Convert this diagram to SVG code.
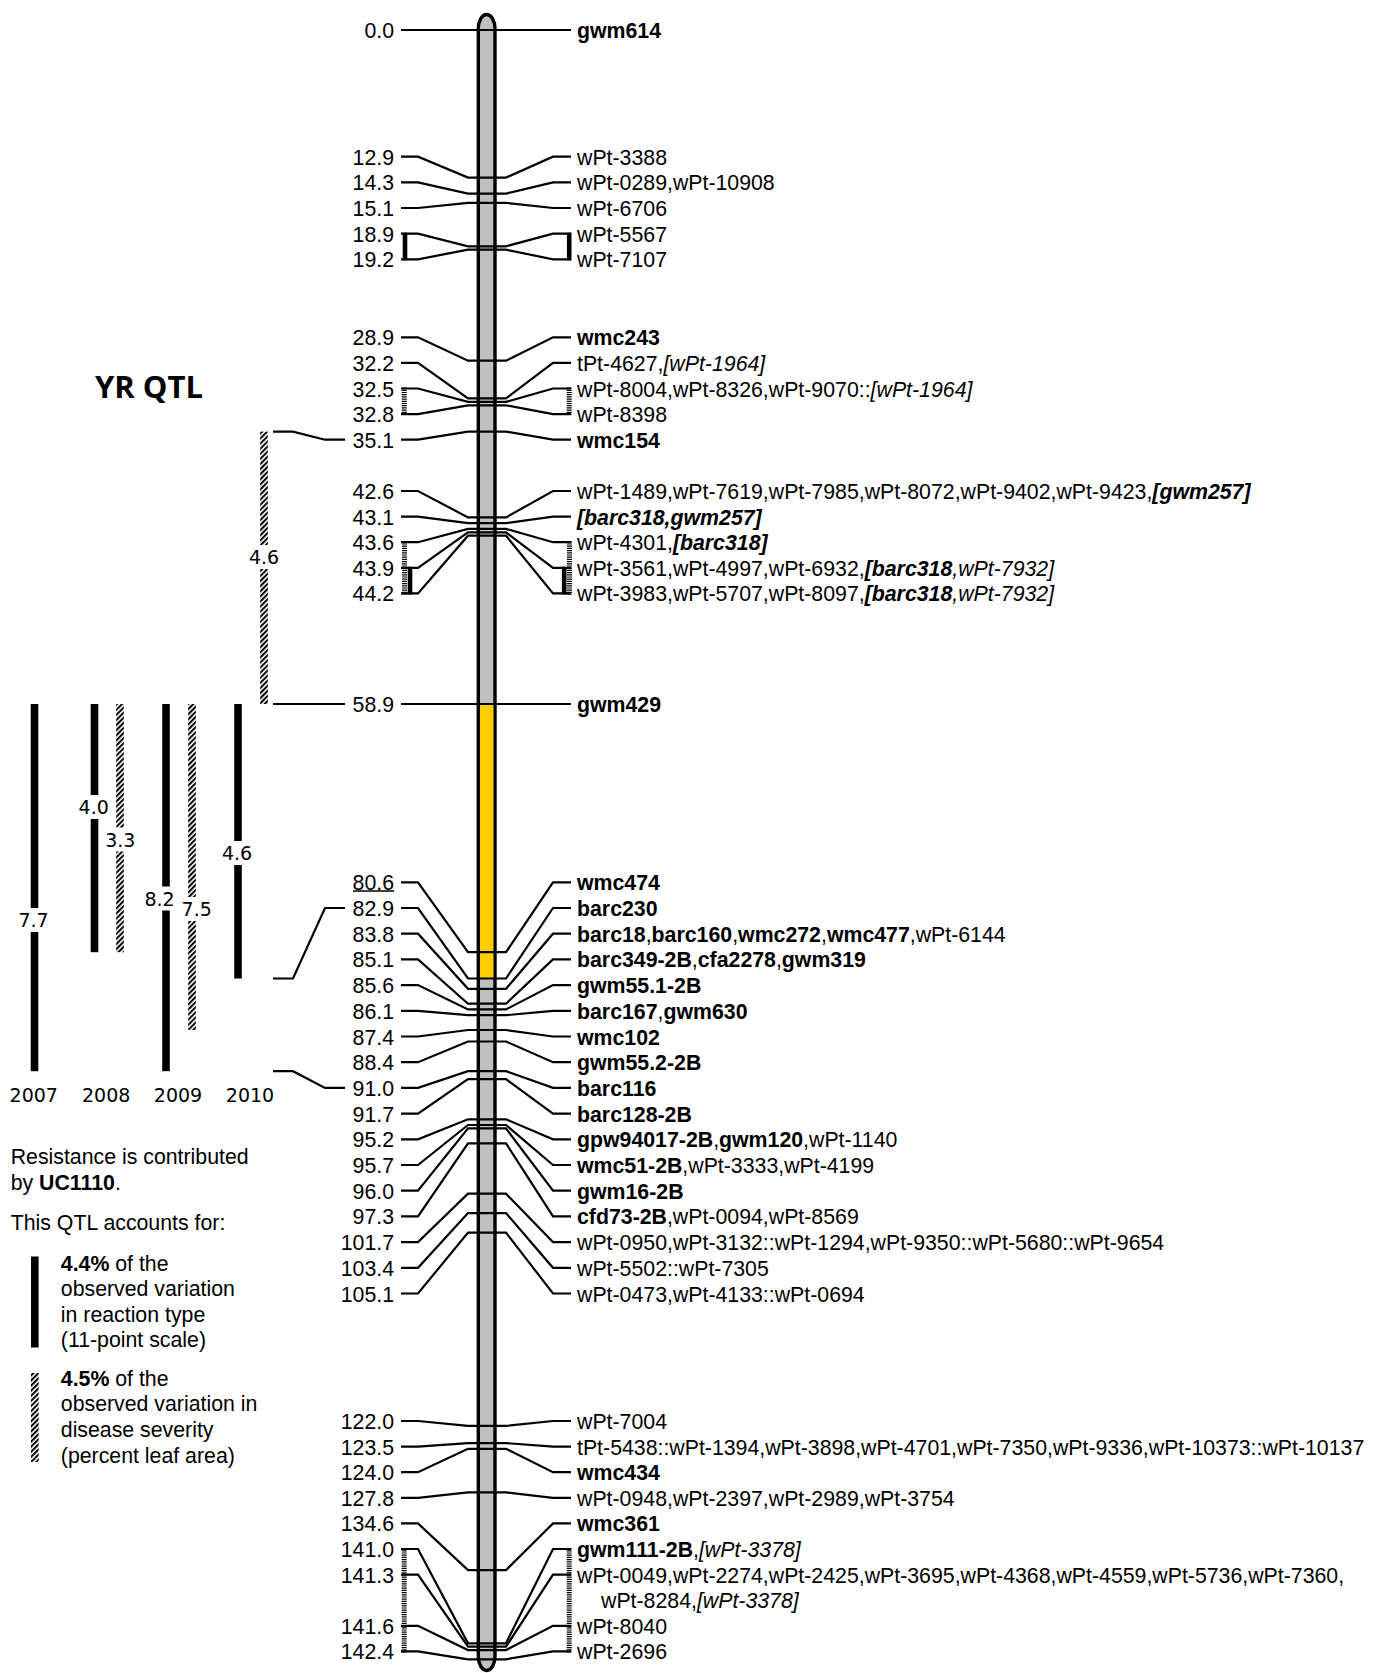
<svg xmlns="http://www.w3.org/2000/svg" width="1374" height="1673" viewBox="0 0 1374 1673">
<style>
.t{font-family:"Liberation Sans",Arial,sans-serif;font-size:21.3px;fill:#000}
.n{text-anchor:end}
.b{font-weight:bold}
.i{font-style:italic}
.bi{font-weight:bold;font-style:italic}
.c{fill:none;stroke:#000;stroke-width:2.2;stroke-linejoin:miter}
.d{font-family:"DejaVu Sans",Verdana,sans-serif;font-size:19px;text-anchor:middle;fill:#000}
.solid{stroke:#000;stroke-width:4.6;fill:none}
.lad{stroke:#000;stroke-width:5;stroke-dasharray:1.2 1;fill:none}
</style>
<defs>
<pattern id="hatch" width="3.6" height="3.6" patternUnits="userSpaceOnUse" patternTransform="rotate(45)">
<rect width="3.6" height="3.6" fill="#fff"/><rect width="2" height="3.6" fill="#000"/>
</pattern>
</defs>
<rect width="1374" height="1673" fill="#fff"/>

<g id="chromosome">
<rect x="478.3" y="14.5" width="16.7" height="1656" rx="8.35" ry="14" fill="#c0c0c0" stroke="#000" stroke-width="3.4"/>
<rect x="479.95" y="704" width="13.4" height="274.5" fill="#ffcc00"/>
</g>

<g id="connectors">
<path class="c" d="M401,30 H418 L468,30 H506 L553,30 H571"/>
<path class="c" d="M401,156.7 H418 L468,177.6 H506 L553,156.7 H571"/>
<path class="c" d="M401,182.4 H418 L468,193.6 H506 L553,182.4 H571"/>
<path class="c" d="M401,208 H418 L468,202.8 H506 L553,208 H571"/>
<path class="c" d="M401,233.7 H418 L468,246.3 H506 L553,233.7 H571"/>
<path class="c" d="M401,259.3 H418 L468,249.7 H506 L553,259.3 H571"/>
<path class="c" d="M401,337.3 H418 L468,360.7 H506 L553,337.3 H571"/>
<path class="c" d="M401,362.9 H418 L468,398.4 H506 L553,362.9 H571"/>
<path class="c" d="M401,388.5 H418 L468,401.9 H506 L553,388.5 H571"/>
<path class="c" d="M401,414.1 H418 L468,405.3 H506 L553,414.1 H571"/>
<path class="c" d="M401,439.7 H418 L468,431.6 H506 L553,439.7 H571"/>
<path class="c" d="M401,491 H418 L468,517.4 H506 L553,491 H571"/>
<path class="c" d="M401,516.6 H418 L468,523.2 H506 L553,516.6 H571"/>
<path class="c" d="M401,542.2 H418 L468,528.9 H506 L553,542.2 H571"/>
<path class="c" d="M401,567.8 H418 L468,532.3 H506 L553,567.8 H571"/>
<path class="c" d="M401,593.4 H418 L468,535.7 H506 L553,593.4 H571"/>
<path class="c" d="M401,704 H418 L468,704 H506 L553,704 H571"/>
<path class="c" d="M401,882.3 H418 L468,952.2 H506 L553,882.3 H571"/>
<path class="c" d="M401,908 H418 L468,978.5 H506 L553,908 H571"/>
<path class="c" d="M401,933.7 H418 L468,988.8 H506 L553,933.7 H571"/>
<path class="c" d="M401,959.4 H418 L468,1003.7 H506 L553,959.4 H571"/>
<path class="c" d="M401,985.1 H418 L468,1009.4 H506 L553,985.1 H571"/>
<path class="c" d="M401,1010.8 H418 L468,1015.2 H506 L553,1010.8 H571"/>
<path class="c" d="M401,1036.5 H418 L468,1030 H506 L553,1036.5 H571"/>
<path class="c" d="M401,1062.2 H418 L468,1041.5 H506 L553,1062.2 H571"/>
<path class="c" d="M401,1087.9 H418 L468,1071.2 H506 L553,1087.9 H571"/>
<path class="c" d="M401,1113.6 H418 L468,1079.2 H506 L553,1113.6 H571"/>
<path class="c" d="M401,1139.3 H418 L468,1119.3 H506 L553,1139.3 H571"/>
<path class="c" d="M401,1165 H418 L468,1125 H506 L553,1165 H571"/>
<path class="c" d="M401,1190.7 H418 L468,1128.4 H506 L553,1190.7 H571"/>
<path class="c" d="M401,1216.4 H418 L468,1143.3 H506 L553,1216.4 H571"/>
<path class="c" d="M401,1242.1 H418 L468,1193.7 H506 L553,1242.1 H571"/>
<path class="c" d="M401,1267.8 H418 L468,1213.1 H506 L553,1267.8 H571"/>
<path class="c" d="M401,1293.5 H418 L468,1232.6 H506 L553,1293.5 H571"/>
<path class="c" d="M401,1421 H418 L468,1425.9 H506 L553,1421 H571"/>
<path class="c" d="M401,1446.6 H418 L468,1443.1 H506 L553,1446.6 H571"/>
<path class="c" d="M401,1472.2 H418 L468,1448.8 H506 L553,1472.2 H571"/>
<path class="c" d="M401,1497.8 H418 L468,1492.3 H506 L553,1497.8 H571"/>
<path class="c" d="M401,1523.4 H418 L468,1570.1 H506 L553,1523.4 H571"/>
<path class="c" d="M401,1549 H418 L468,1643.3 H506 L553,1549 H571"/>
<path class="c" d="M401,1574.6 H418 L468,1646.7 H506 L553,1574.6 H571"/>
<path class="c" d="M401,1625.8 H418 L468,1650.1 H506 L553,1625.8 H571"/>
<path class="c" d="M401,1651.4 H418 L468,1659.3 H506 L553,1651.4 H571"/>
<path class="c" d="M273,431.6 H293 L325,439.7 H345"/>
<path class="c" d="M273,704 H293 L325,704 H345"/>
<path class="c" d="M273,978.5 H293 L325,908 H345"/>
<path class="c" d="M273,1071.2 H293 L325,1087.9 H345"/>
<path class="solid" d="M405,232.7 V260.3 M569.2,232.7 V260.3"/>
<path class="lad" d="M404.2,387.5 V415.1 M569.2,387.5 V415.1"/>
<path class="lad" d="M404.5,541.2 V594.4 M569.5,541.2 V594.4"/>
<path class="solid" d="M410,566.8 V594.4 M564.2,566.8 V594.4"/>
<path class="lad" d="M404.2,1548 V1652.4 M569.2,1548 V1652.4"/>
<line x1="353" y1="891" x2="394" y2="891" stroke="#000" stroke-width="1.5"/>
</g>

<g id="m0"><text class="t n" x="394" y="38">0.0</text><text class="t b" x="577" y="38">gwm614</text></g>
<g id="m12-9"><text class="t n" x="394" y="164.7">12.9</text><text class="t" x="577" y="164.7">wPt-3388</text></g>
<g id="m14-3"><text class="t n" x="394" y="190.4">14.3</text><text class="t" x="577" y="190.4">wPt-0289,wPt-10908</text></g>
<g id="m15-1"><text class="t n" x="394" y="216">15.1</text><text class="t" x="577" y="216">wPt-6706</text></g>
<g id="m18-9"><text class="t n" x="394" y="241.7">18.9</text><text class="t" x="577" y="241.7">wPt-5567</text></g>
<g id="m19-2"><text class="t n" x="394" y="267.3">19.2</text><text class="t" x="577" y="267.3">wPt-7107</text></g>
<g id="m28-9"><text class="t n" x="394" y="345.3">28.9</text><text class="t b" x="577" y="345.3">wmc243</text></g>
<g id="m32-2"><text class="t n" x="394" y="370.9">32.2</text><text class="t" x="577" y="370.9">tPt-4627,<tspan class="i">[wPt-1964]</tspan></text></g>
<g id="m32-5"><text class="t n" x="394" y="396.5">32.5</text><text class="t" x="577" y="396.5">wPt-8004,wPt-8326,wPt-9070::<tspan class="i">[wPt-1964]</tspan></text></g>
<g id="m32-8"><text class="t n" x="394" y="422.1">32.8</text><text class="t" x="577" y="422.1">wPt-8398</text></g>
<g id="m35-1"><text class="t n" x="394" y="447.7">35.1</text><text class="t b" x="577" y="447.7">wmc154</text></g>
<g id="m42-6"><text class="t n" x="394" y="499">42.6</text><text class="t" x="577" y="499">wPt-1489,wPt-7619,wPt-7985,wPt-8072,wPt-9402,wPt-9423,<tspan class="bi">[gwm257]</tspan></text></g>
<g id="m43-1"><text class="t n" x="394" y="524.6">43.1</text><text class="t bi" x="577" y="524.6">[barc318,gwm257]</text></g>
<g id="m43-6"><text class="t n" x="394" y="550.2">43.6</text><text class="t" x="577" y="550.2">wPt-4301,<tspan class="bi">[barc318]</tspan></text></g>
<g id="m43-9"><text class="t n" x="394" y="575.8">43.9</text><text class="t" x="577" y="575.8">wPt-3561,wPt-4997,wPt-6932,<tspan class="bi">[barc318</tspan><tspan class="i">,wPt-7932]</tspan></text></g>
<g id="m44-2"><text class="t n" x="394" y="601.4">44.2</text><text class="t" x="577" y="601.4">wPt-3983,wPt-5707,wPt-8097,<tspan class="bi">[barc318</tspan><tspan class="i">,wPt-7932]</tspan></text></g>
<g id="m58-9"><text class="t n" x="394" y="712">58.9</text><text class="t b" x="577" y="712">gwm429</text></g>
<g id="m80-6"><text class="t n" x="394" y="890.3">80.6</text><text class="t b" x="577" y="890.3">wmc474</text></g>
<g id="m82-9"><text class="t n" x="394" y="916">82.9</text><text class="t b" x="577" y="916">barc230</text></g>
<g id="m83-8"><text class="t n" x="394" y="941.7">83.8</text><text class="t" x="577" y="941.7"><tspan class="b">barc18</tspan>,<tspan class="b">barc160</tspan>,<tspan class="b">wmc272</tspan>,<tspan class="b">wmc477</tspan>,wPt-6144</text></g>
<g id="m85-1"><text class="t n" x="394" y="967.4">85.1</text><text class="t" x="577" y="967.4"><tspan class="b">barc349-2B</tspan>,<tspan class="b">cfa2278</tspan>,<tspan class="b">gwm319</tspan></text></g>
<g id="m85-6"><text class="t n" x="394" y="993.1">85.6</text><text class="t b" x="577" y="993.1">gwm55.1-2B</text></g>
<g id="m86-1"><text class="t n" x="394" y="1018.8">86.1</text><text class="t" x="577" y="1018.8"><tspan class="b">barc167</tspan>,<tspan class="b">gwm630</tspan></text></g>
<g id="m87-4"><text class="t n" x="394" y="1044.5">87.4</text><text class="t b" x="577" y="1044.5">wmc102</text></g>
<g id="m88-4"><text class="t n" x="394" y="1070.2">88.4</text><text class="t b" x="577" y="1070.2">gwm55.2-2B</text></g>
<g id="m91-0"><text class="t n" x="394" y="1095.9">91.0</text><text class="t b" x="577" y="1095.9">barc116</text></g>
<g id="m91-7"><text class="t n" x="394" y="1121.6">91.7</text><text class="t b" x="577" y="1121.6">barc128-2B</text></g>
<g id="m95-2"><text class="t n" x="394" y="1147.3">95.2</text><text class="t" x="577" y="1147.3"><tspan class="b">gpw94017-2B</tspan>,<tspan class="b">gwm120</tspan>,wPt-1140</text></g>
<g id="m95-7"><text class="t n" x="394" y="1173">95.7</text><text class="t" x="577" y="1173"><tspan class="b">wmc51-2B</tspan>,wPt-3333,wPt-4199</text></g>
<g id="m96-0"><text class="t n" x="394" y="1198.7">96.0</text><text class="t b" x="577" y="1198.7">gwm16-2B</text></g>
<g id="m97-3"><text class="t n" x="394" y="1224.4">97.3</text><text class="t" x="577" y="1224.4"><tspan class="b">cfd73-2B</tspan>,wPt-0094,wPt-8569</text></g>
<g id="m101-7"><text class="t n" x="394" y="1250.1">101.7</text><text class="t" x="577" y="1250.1">wPt-0950,wPt-3132::wPt-1294,wPt-9350::wPt-5680::wPt-9654</text></g>
<g id="m103-4"><text class="t n" x="394" y="1275.8">103.4</text><text class="t" x="577" y="1275.8">wPt-5502::wPt-7305</text></g>
<g id="m105-1"><text class="t n" x="394" y="1301.5">105.1</text><text class="t" x="577" y="1301.5">wPt-0473,wPt-4133::wPt-0694</text></g>
<g id="m122-0"><text class="t n" x="394" y="1429">122.0</text><text class="t" x="577" y="1429">wPt-7004</text></g>
<g id="m123-5"><text class="t n" x="394" y="1454.6">123.5</text><text class="t" x="577" y="1454.6">tPt-5438::wPt-1394,wPt-3898,wPt-4701,wPt-7350,wPt-9336,wPt-10373::wPt-10137</text></g>
<g id="m124-0"><text class="t n" x="394" y="1480.2">124.0</text><text class="t b" x="577" y="1480.2">wmc434</text></g>
<g id="m127-8"><text class="t n" x="394" y="1505.8">127.8</text><text class="t" x="577" y="1505.8">wPt-0948,wPt-2397,wPt-2989,wPt-3754</text></g>
<g id="m134-6"><text class="t n" x="394" y="1531.4">134.6</text><text class="t b" x="577" y="1531.4">wmc361</text></g>
<g id="m141-0"><text class="t n" x="394" y="1557">141.0</text><text class="t" x="577" y="1557"><tspan class="b">gwm111-2B</tspan>,<tspan class="i">[wPt-3378]</tspan></text></g>
<g id="m141-3"><text class="t n" x="394" y="1582.6">141.3</text><text class="t" x="577" y="1582.6">wPt-0049,wPt-2274,wPt-2425,wPt-3695,wPt-4368,wPt-4559,wPt-5736,wPt-7360,</text><text class="t" x="601" y="1608.2">wPt-8284,<tspan class="i">[wPt-3378]</tspan></text></g>
<g id="m141-6"><text class="t n" x="394" y="1633.8">141.6</text><text class="t" x="577" y="1633.8">wPt-8040</text></g>
<g id="m142-4"><text class="t n" x="394" y="1659.4">142.4</text><text class="t" x="577" y="1659.4">wPt-2696</text></g>

<g id="title"><text x="95" y="398" style="font-family:'Open Sans',sans-serif;font-weight:bold;font-size:31px">YR QTL</text></g>

<g id="qtl-bars">
<rect x="260.2" y="431.6" width="7.6" height="272.4" fill="url(#hatch)"/>
<rect x="30.7" y="704" width="7.6" height="367.2" fill="#000"/>
<rect x="90.7" y="704" width="7.6" height="248.2" fill="#000"/>
<rect x="116.2" y="704" width="7.6" height="248.2" fill="url(#hatch)"/>
<rect x="162.2" y="704" width="7.6" height="367.2" fill="#000"/>
<rect x="188.2" y="704" width="7.6" height="326" fill="url(#hatch)"/>
<rect x="234.2" y="704" width="7.6" height="274.5" fill="#000"/>
<g fill="#fff">
<rect x="249" y="545" width="30" height="24"/>
<rect x="79" y="795" width="30" height="24"/>
<rect x="105.5" y="827.5" width="30" height="24"/>
<rect x="222" y="841" width="30" height="24"/>
<rect x="145" y="886.5" width="30" height="24"/>
<rect x="182" y="897" width="30" height="24"/>
<rect x="18.5" y="908" width="30" height="24"/>
</g>
<text class="d" x="264" y="564">4.6</text>
<text class="d" x="93.7" y="814.3">4.0</text>
<text class="d" x="120.3" y="846.5">3.3</text>
<text class="d" x="237" y="860.2">4.6</text>
<text class="d" x="159.5" y="905.5">8.2</text>
<text class="d" x="196.7" y="916">7.5</text>
<text class="d" x="33.5" y="927">7.7</text>
<text class="d" x="33.8" y="1101.5">2007</text>
<text class="d" x="106.2" y="1101.5">2008</text>
<text class="d" x="178" y="1101.5">2009</text>
<text class="d" x="250" y="1101.5">2010</text>
</g>

<g id="legend">
<text class="t" x="10.7" y="1164.3">Resistance is contributed</text>
<text class="t" x="10.7" y="1190">by <tspan class="b">UC1110</tspan>.</text>
<text class="t" x="10.7" y="1229.5">This QTL accounts for:</text>
<rect x="31" y="1256.5" width="7.6" height="91" fill="#000"/>
<text class="t" x="60.8" y="1270.5"><tspan class="b">4.4%</tspan> of the</text>
<text class="t" x="60.8" y="1296.1">observed variation</text>
<text class="t" x="60.8" y="1321.7">in reaction type</text>
<text class="t" x="60.8" y="1347.3">(11-point scale)</text>
<rect x="31" y="1373" width="7.6" height="89" fill="url(#hatch)"/>
<text class="t" x="60.8" y="1385.8"><tspan class="b">4.5%</tspan> of the</text>
<text class="t" x="60.8" y="1411.4">observed variation in</text>
<text class="t" x="60.8" y="1437">disease severity</text>
<text class="t" x="60.8" y="1462.6">(percent leaf area)</text>
</g>
</svg>
